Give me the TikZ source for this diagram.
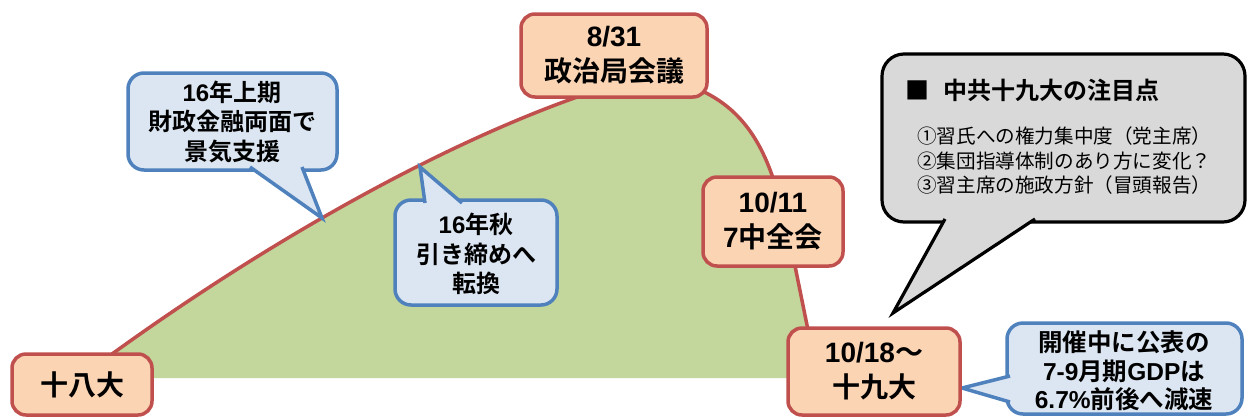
\documentclass[tikz,border=0pt]{standalone}
\usepackage{fontspec}
\setmainfont{Noto Sans CJK JP}[BoldFont={Noto Sans CJK JP Bold}]
\newfontfamily\ar{Liberation Sans}
\definecolor{redline}{HTML}{C0504D}
\definecolor{peach}{HTML}{FBD4B4}
\definecolor{hill}{HTML}{C3D69B}
\definecolor{blueline}{HTML}{4F81BD}
\definecolor{bluefill}{HTML}{DCE6F2}
\definecolor{grayfill}{HTML}{D9D9D9}
\tikzset{
  datebox/.style={draw=redline, fill=peach, line width=3.5pt, rounded corners=14pt,
    inner sep=0pt, align=center, font=\bfseries\fontsize{28}{35}\selectfont},
  bluecall/.style={draw=blueline, fill=bluefill, line width=3.5pt, line join=miter},
  graycall/.style={draw=black, fill=grayfill, line width=3.2pt, line join=miter},
  calltext/.style={align=center, inner sep=0pt, font=\bfseries\fontsize{24}{29.5}\selectfont},
}
\begin{document}
\begin{tikzpicture}[x=1pt,y=-1pt]
\useasboundingbox (0,0) rectangle (1247,416);
% hill
\fill[hill] (112,354) .. controls (270,240) and (440,145) .. (580,96) -- (700,90)
  .. controls (740,108) and (760,140) .. (773,178) -- (795,266) -- (808,330)
  -- (808,378) -- (112,378) -- cycle;
\draw[redline, line width=3.5pt] (112,354) .. controls (270,240) and (440,145) .. (580,96) -- (700,90)
  .. controls (740,108) and (760,140) .. (773,178) -- (795,266) -- (808,330);
% callout 1
\draw[bluecall, rounded corners=16pt] (128,73) rectangle (337,170);
\draw[bluecall] (250,167) -- (322,218) -- (302,167);
\node[calltext] (c1) at (232,122) {{\ar 16}年上期\\財政金融両面で\\景気支援};
% callout 2
\draw[bluecall, rounded corners=16pt] (395,200) rectangle (557,305);
\draw[bluecall] (425,203) -- (420,167) -- (462,203);
\node[calltext] (c2) at (476,254) {{\ar 16}年秋\\引き締めへ\\転換};
% gray callout
\draw[graycall, rounded corners=22pt] (882,54) rectangle (1245,222);
\draw[graycall] (945,219) -- (893,313) -- (1035,219);
\node[anchor=west, inner sep=0pt, font=\bfseries\fontsize{24}{29}\selectfont] (gt) at (905,90) {■\hspace{14pt}中共十九大の注目点};
\node[anchor=north west, align=left, inner sep=0pt, font=\fontsize{19.6}{24.3}\selectfont] (gi) at (917,127)
  {①習氏への権力集中度（党主席）\\②集団指導体制のあり方に変化？\\③習主席の施政方針（冒頭報告）};
% GDP callout
\draw[bluecall, rounded corners=16pt] (1007,323) rectangle (1242,414);
\draw[bluecall] (1010,376) -- (962,388) -- (1010,402);
\node[calltext, font=\bfseries\fontsize{24.5}{28.5}\selectfont] (c3) at (1124,371)
  {開催中に公表の\\{\ar 7-9}月期{\ar GDP}は\\{\ar 6.7\%}前後へ減速};
% date boxes
\node[datebox, minimum width=140pt, minimum height=61pt] (n18) at (82,384.5) {十八大};
\node[datebox, minimum width=186pt, minimum height=83pt] (n831) at (614,55.5) {{\ar 8/31}\\政治局会議};
\node[datebox, minimum width=140pt, minimum height=89pt] (n1011) at (773,221.5) {{\ar 10/11}\\{\ar 7}中全会};
\node[datebox, minimum width=172pt, minimum height=87pt] (n1018) at (874,371.5) {{\ar 10/18}～\\十九大};
\end{tikzpicture}
\end{document}
